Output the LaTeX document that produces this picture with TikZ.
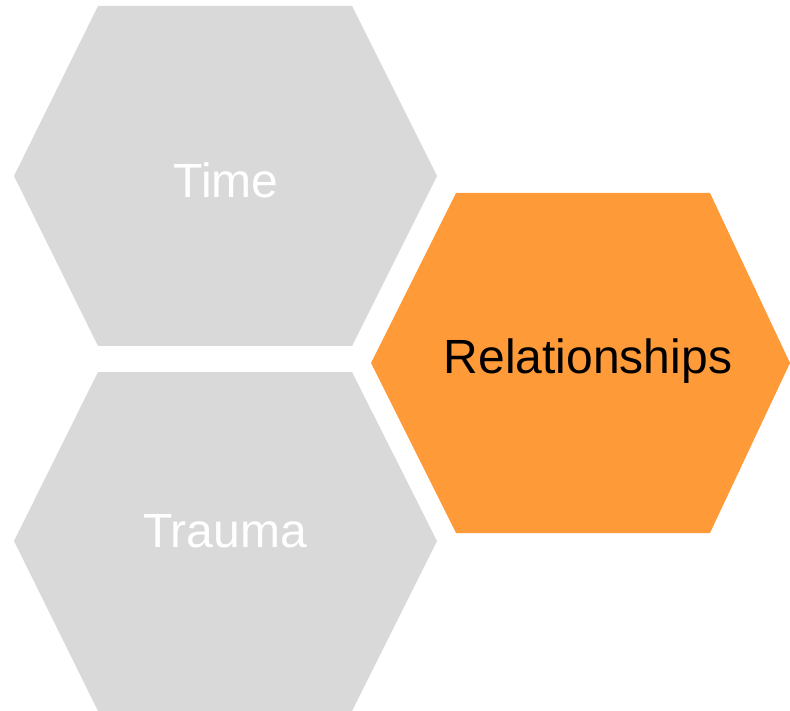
\documentclass[tikz,border=0pt]{standalone}
\usepackage{fontspec}
\setmainfont{Liberation Sans}
\usepackage{tikz}
\definecolor{hexgray}{RGB}{217,217,217}
\definecolor{hexorange}{RGB}{255,154,56}
\begin{document}
\begin{tikzpicture}[x=1pt,y=-1pt]
	\tikzstyle{cell}=[draw=none]
	\tikzstyle{word}=[font=\fontsize{48}{56}\selectfont, inner sep=0pt]
	\useasboundingbox (0,0) rectangle (790,711);
	% grey cells
	\fill[cell, hexgray] (14,176) -- (98,6) -- (352,6) -- (437,176) -- (352,346) -- (98,346) -- cycle;
	\fill[cell, hexgray] (14,541) -- (98,372) -- (352,372) -- (437,541) -- (352,711) -- (98,711) -- cycle;
	% highlighted cell
	\fill[cell, hexorange] (371,363) -- (456,193) -- (710,193) -- (790,363) -- (710,533) -- (456,533) -- cycle;
	\node[word, text=white] (time) at (226,180) {Time};
	\node[word, text=white] (trauma) at (225,531) {Trauma};
	\node[word, text=black] (rel) at (588,361) {Relationships};
\end{tikzpicture}
\end{document}
